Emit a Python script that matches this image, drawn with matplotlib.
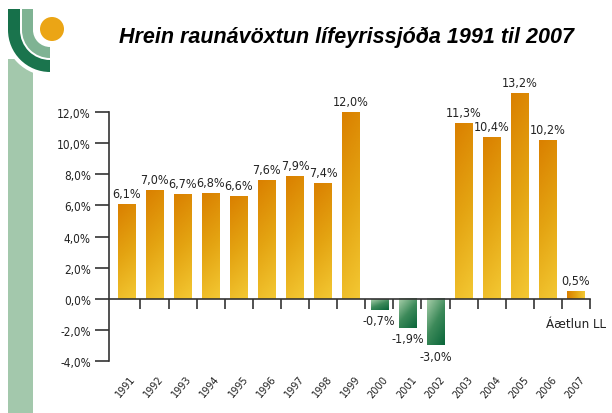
import numpy as np
import matplotlib.pyplot as plt
from matplotlib.colors import LinearSegmentedColormap
from matplotlib.patches import Rectangle, Wedge, Circle

# Hrein raunávöxtun lífeyrissjóða
years = [str(y) for y in range(1991, 2008)]
returns = [6.1, 7.0, 6.7, 6.8, 6.6, 7.6, 7.9, 7.4, 12.0,
           -0.7, -1.9, -3.0, 11.3, 10.4, 13.2, 10.2, 0.5]
yticks = [-4, -2, 0, 2, 4, 6, 8, 10, 12]

def pct(v):
    return f"{v:.1f}%".replace('.', ',')

orange = LinearSegmentedColormap.from_list('or', ['#da8000', '#e4a412', '#f3c833'])
green = LinearSegmentedColormap.from_list('gr', ['#a9d0ab', '#3d8a5a', '#0a663a'])

plt.rcParams['font.family'] = ['DejaVu Sans']
plt.rcParams['font.stretch'] = 'condensed'

fig = plt.figure(figsize=(6.12, 4.14), dpi=100)

# logo in pixel coords
bg = fig.add_axes([0, 0, 1, 1])
bg.set_xlim(0, 612)
bg.set_ylim(414, 0)
bg.axis('off')
bg.add_patch(Rectangle((8, 60), 25, 360, color='#a3c8ac', lw=0))
bg.add_patch(Wedge((50, 31), 46, 90, 180, width=18, color='white', lw=0))
bg.add_patch(Rectangle((8, 10), 12, 21.5, color='#16704a', lw=0))
bg.add_patch(Wedge((50, 31), 42, 90, 180, width=12, color='#1a744d', lw=0))
bg.add_patch(Rectangle((22, 10), 11, 21.5, color='#7fb393', lw=0))
bg.add_patch(Wedge((50, 31), 28, 90, 180, width=11, color='#7fb393', lw=0))
bg.add_patch(Circle((52, 30), 12, color='#eba515', lw=0))

fig.text(0.566, 0.91, 'Hrein raunávöxtun lífeyrissjóða 1991 til 2007',
         ha='center', va='center', fontsize=15.5, fontweight='bold',
         fontstyle='italic', family=['Liberation Sans', 'DejaVu Sans'],
         fontstretch='normal')

ax = fig.add_axes([109/612, 52/414, 481/612, 249/414])
ax.patch.set_alpha(0)
x = np.arange(len(years))
bars = ax.bar(x, returns, width=0.62, color='none', lw=0)

n = 64
rr, cc = np.mgrid[0:n, 0:n] / (n - 1)
for b, v in zip(bars, returns):
    x0, w = b.get_x(), b.get_width()
    if v < 0:
        t = 0.6 * (1 - rr) + 0.4 * cc
        cmap, ext = green, (x0, x0 + w, v, 0)
    elif v < 1:
        t = cc
        cmap, ext = orange, (x0, x0 + w, 0, v)
    else:
        t = np.clip(0.85 * (1 - rr) + 0.15 * cc, 0, 1)
        cmap, ext = orange, (x0, x0 + w, 0, v)
    ax.imshow(t, cmap=cmap, extent=ext, origin='lower', aspect='auto',
              clip_on=False, zorder=2)
    off = 3 if v >= 0 else -3
    ax.annotate(pct(v), (b.get_x() + w / 2, v), xytext=(0, off),
                textcoords='offset points', ha='center',
                va='bottom' if v >= 0 else 'top', fontsize=9, color='#222',
                annotation_clip=False)

for xi, yr in zip(x, years):
    ax.text(xi + 0.12, -0.05, yr, transform=ax.get_xaxis_transform(),
            rotation=50, ha='right', va='top', rotation_mode='anchor',
            fontsize=7.8, color='#222')

ax.text(16.0, -1.6, 'Áætlun LL', ha='center', va='center', fontsize=9.5,
        color='#222')

ax.set_xlim(-0.62, 16.5)
ax.set_ylim(-4, 12)
ax.spines['top'].set_visible(False)
ax.spines['right'].set_visible(False)
ax.spines['bottom'].set_position(('data', 0))
ax.spines['bottom'].set_zorder(3)
for s in ('left', 'bottom'):
    ax.spines[s].set_color('#333')
    ax.spines[s].set_linewidth(1.2)
ax.set_xticks(np.arange(0.5, 17, 1))
ax.tick_params(axis='x', direction='out', length=7, width=1.2,
               color='#333', labelbottom=False)
ax.set_yticks(yticks)
ax.set_yticklabels([pct(v) for v in yticks])
ax.tick_params(axis='y', direction='out', length=10, width=1.2, color='#333',
               labelsize=8.5, labelcolor='#222', pad=3)

fig.savefig('out.png', dpi=100)
